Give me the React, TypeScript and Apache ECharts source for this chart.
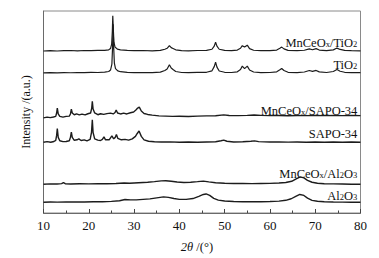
import React, { useEffect, useRef } from "react";
import * as echarts from "echarts";

// 2θ range and tick labels
const xMin = 10;
const xMax = 80;
const xTicks = [10, 20, 30, 40, 50, 60, 70, 80];

// Curve names (rich text for subscripts) and vertical offsets (a.u.)
const seriesNames = ["MnCeOx/TiO2", "TiO2", "MnCeOx/SAPO-34", "SAPO-34", "MnCeOx/Al2O3", "Al2O3"];
const richNames = [
  "{a|MnCeO}{s|x}{a|/TiO}{s|2}",
  "{a|TiO}{s|2}",
  "{a|MnCeO}{s|x}{a|/SAPO-34}",
  "{a|SAPO-34}",
  "{a|MnCeO}{s|x}{a|/Al}{s|2}{a|O}{s|3}",
  "{a|Al}{s|2}{a|O}{s|3}",
];
const offsets = [166, 143.5, 97.5, 72.5, 29.5, 11];
const labelOffsets = [174.5, 152.5, 105.5, 81.5, 40, 18];

// [2θ, intensity above own baseline]
const mnceTiO2 = [
  [10, 0], [11.5, 0.4], [13, 0], [14.5, 0.3], [16, 0.5], [17.5, 0.2], [19, 0.5], [20.5, 0.3], [22, 0.6], [23.5, 0.7],
  [24.4, 1.2], [24.8, 2.5], [25.05, 7], [25.2, 20], [25.3, 36], [25.42, 22], [25.55, 9], [25.8, 4], [26.3, 2],
  [27, 1.2], [28.5, 0.6], [30, 0.3], [32, 0.5], [34, 0.2], [35.8, 0.6], [36.8, 1.8], [37.3, 2.8], [37.8, 5.5],
  [38.2, 3.5], [38.6, 2.6], [39.2, 1.2], [40.5, 0.4], [42, 0.2], [44, 0.5], [46, 0.6], [47.2, 1.8], [47.7, 5],
  [48.0, 9], [48.3, 5], [48.8, 1.8], [50, 0.6], [51.5, 0.4], [52.8, 1], [53.5, 2.8], [53.9, 5.5], [54.4, 4],
  [55.0, 6], [55.5, 2.5], [56.4, 0.8], [58, 0.3], [60, 0.4], [61.5, 1], [62.2, 2.8], [62.6, 4], [63.1, 2.2],
  [64, 0.6], [66, 0.3], [67.6, 0.8], [68.7, 2.2], [69.4, 1.3], [70.2, 2.4], [70.9, 1], [72.5, 0.4], [74, 1.2],
  [74.8, 3], [75.5, 1.6], [76.5, 0.6], [78, 0.3], [80, 0.2],
];
const tiO2 = [
  [10, 0], [11.5, 0.3], [13, 0], [14.5, 0.4], [16, 0.2], [17.5, 0.5], [19, 0.3], [20.5, 0.6], [22, 0.5], [23.5, 0.8],
  [24.4, 1.5], [24.8, 3], [25.1, 9], [25.25, 26], [25.38, 50], [25.5, 26], [25.65, 10], [25.9, 4.5], [26.4, 2.2],
  [27, 1.3], [28.5, 0.7], [30, 0.4], [32, 0.5], [34, 0.3], [35.8, 0.8], [36.8, 2.5], [37.3, 4], [37.8, 8.5],
  [38.2, 5], [38.6, 3.5], [39.2, 1.5], [40.5, 0.5], [42, 0.3], [44, 0.6], [46, 0.7], [47.2, 2.2], [47.7, 6.5],
  [48.0, 11], [48.3, 6], [48.8, 2], [50, 0.7], [51.5, 0.5], [52.8, 1.2], [53.5, 3.5], [53.9, 7], [54.4, 4.5],
  [55.0, 7], [55.5, 3], [56.4, 1], [58, 0.4], [60, 0.5], [61.5, 1.2], [62.2, 3.2], [62.6, 4.5], [63.1, 2.5],
  [64, 0.7], [66, 0.4], [67.6, 1], [68.7, 2.5], [69.4, 1.6], [70.2, 2.6], [70.9, 1.1], [72.5, 0.5], [74, 1.5],
  [74.8, 3.5], [75.5, 1.8], [76.5, 0.7], [78, 0.4], [80, 0.3],
];
const mnceSapo = [
  [10, 0], [10.8, 0.8], [11.5, 0.2], [12.2, 0.9], [12.7, 1.5], [12.9, 5], [13.05, 10], [13.25, 4], [13.6, 1.5],
  [14.3, 0.8], [15.0, 1.5], [15.7, 1.8], [15.95, 4], [16.15, 9], [16.35, 5], [16.8, 3.2], [17.3, 4], [17.9, 3],
  [18.5, 3.8], [19.2, 3], [19.8, 4.2], [20.4, 5], [20.65, 10], [20.78, 17], [20.95, 9], [21.3, 5], [22, 3.2],
  [22.6, 4.2], [23.3, 3.5], [24, 4.3], [24.8, 4.8], [25.4, 4], [25.8, 5.5], [26.05, 8], [26.35, 5], [27, 4],
  [27.7, 4.8], [28.4, 4], [29.2, 5.2], [29.9, 6], [30.4, 8], [30.8, 10], [31.15, 11], [31.6, 7], [32.2, 4.5],
  [33, 3.5], [34, 2.8], [35.5, 2], [37, 1.8], [38.5, 1.5], [40, 1.6], [42, 1.4], [44, 1.8], [46, 2], [48, 2.2],
  [49.8, 3], [51, 2.4], [53, 2.3], [55, 2.5], [56.5, 3], [58, 2.5], [60, 2.3], [62, 2.4], [64, 2.2], [66, 2.4],
  [68, 2.3], [70, 2.5], [72, 2.3], [74, 2.4], [76, 2.3], [78, 2.4], [80, 2.3],
];
const sapo = [
  [10, 0], [10.8, 0.6], [11.6, 0], [12.3, 0.8], [12.7, 2], [12.9, 7], [13.05, 14], [13.25, 5], [13.6, 1.5],
  [14.3, 0.6], [15.0, 0.8], [15.7, 1.5], [15.95, 5], [16.15, 10.5], [16.35, 5], [16.8, 2], [17.4, 2.5], [17.8, 3.5],
  [18.3, 1.8], [19.0, 2.5], [19.6, 1.5], [20.3, 3], [20.6, 10], [20.78, 23], [20.95, 10], [21.3, 3.5], [22.0, 2.2],
  [22.6, 1.8], [23.0, 3], [23.35, 5.5], [23.7, 2.5], [24.5, 2.5], [25.1, 6.5], [25.5, 3.5], [25.85, 5], [26.1, 8],
  [26.4, 4], [27.2, 2.5], [28.0, 3], [28.8, 2.2], [29.6, 3.5], [30.3, 6], [30.7, 9], [31.1, 11.5], [31.6, 6],
  [32.2, 2.5], [33.2, 1], [34.5, 0.5], [36, 0.2], [38, 0.4], [40, 0], [42, 0.3], [44, 0], [46, 0.3], [48, 0.5],
  [49.2, 1.5], [49.8, 2.2], [50.5, 1], [52, 0.3], [54, 0.5], [55.8, 1], [56.6, 1.4], [57.5, 0.6], [60, 0.2],
  [62, 0.4], [64, 0.1], [66, 0.3], [68, 0], [70, 0.2], [72, 0], [74, 0.2], [76, 0], [78, 0.2], [80, 0],
];
const mnceAl2O3 = [
  [10, 0], [11.5, 0.3], [13, 0.2], [14.0, 0.6], [14.4, 1.6], [14.8, 0.5], [16, 0.2], [18, 0.4], [20, 0.3],
  [22, 0.6], [24, 0.5], [26, 0.8], [27.8, 1.3], [29, 1], [31, 1.5], [33, 2], [34.5, 2.6], [36, 3.4], [37, 3.6],
  [38.2, 3], [39.5, 2.2], [41, 1.8], [42.5, 2], [44, 2.6], [45.3, 3.2], [46.5, 2.4], [48, 1.5], [50, 1],
  [52, 0.8], [54, 0.7], [56, 0.6], [58, 0.8], [60, 0.9], [62, 1.2], [63.5, 1.8], [64.8, 3], [65.8, 5.5],
  [66.7, 7.5], [67.5, 6.5], [68.3, 4], [69.3, 2], [70.5, 1], [72, 0.5], [74, 0.3], [76, 0.2], [78, 0], [80, 0],
];
const al2O3 = [
  [10, 0], [11.5, 0.3], [13, 0.1], [15, 0.4], [17, 0.2], [19, 0.3], [21, 0.5], [23, 0.6], [25, 0.9], [26.8, 1.5],
  [28.0, 2.8], [29.2, 2.4], [30.5, 2.5], [32, 3], [33.5, 3.5], [35, 4.5], [36.5, 5.5], [37.6, 5], [38.8, 3.8],
  [40, 3], [41.5, 3], [43, 3.8], [44.3, 6], [45.3, 8], [45.9, 8.5], [46.7, 7], [47.6, 4], [48.6, 2.2], [50, 1.3],
  [52, 0.8], [54, 0.6], [56, 0.7], [58, 0.6], [60, 0.8], [62, 1.2], [63.5, 2], [64.7, 3.6], [65.7, 6],
  [66.6, 8], [67.5, 7], [68.3, 4.2], [69.3, 2], [70.5, 1], [72, 0.5], [74, 0.2], [76, 0.1], [78, 0], [80, 0],
];

const curves = [mnceTiO2, tiO2, mnceSapo, sapo, mnceAl2O3, al2O3];

const FONT = '"Liberation Serif", "Times New Roman", "DejaVu Serif", serif';

export default function App() {
  const ref = useRef<HTMLDivElement>(null);

  useEffect(() => {
    if (!ref.current) return;
    const chart = echarts.init(ref.current, undefined, { renderer: "svg" });

    const series: any[] = curves.map((c, i) => ({
      name: seriesNames[i],
      type: "line",
      data: c.map(([x, y]) => [x, y + offsets[i]]),
      showSymbol: false,
      symbol: "none",
      smooth: false,
      lineStyle: { color: "#1c1c1c", width: i >= 2 ? 1.4 : 1.2 },
      silent: true,
      markPoint: {
        symbol: "circle",
        symbolSize: 0,
        silent: true,
        data: [
          {
            coord: [79.3, labelOffsets[i]],
            label: {
              show: true,
              position: "left",
              distance: 0,
              formatter: richNames[i],
              rich: {
                a: {
                  fontFamily: FONT,
                  fontSize: 12.5,
                  color: "#111",
                  lineHeight: 12,
                  verticalAlign: "top",
                },
                s: {
                  fontFamily: FONT,
                  fontSize: 8.5,
                  color: "#111",
                  lineHeight: 9,
                  padding: [8, 0, 0, 0],
                  verticalAlign: "bottom",
                },
              },
            },
          },
        ],
      },
    }));

    chart.setOption({
      animation: false,
      grid: {
        left: 43.5,
        right: 18.5,
        top: 11,
        bottom: 40,
        show: true,
        borderColor: "#8a8a8a",
        borderWidth: 1,
        backgroundColor: "transparent",
      },
      xAxis: {
        type: "value",
        min: xMin,
        max: xMax,
        interval: 10,
        name: "{i|2θ} /(°)",
        nameLocation: "middle",
        nameGap: 27,
        nameTextStyle: {
          fontFamily: FONT,
          fontSize: 12.5,
          color: "#111",
          padding: [0, 10, 0, 0],
          rich: {
            i: { fontFamily: FONT, fontSize: 12.5, fontStyle: "italic", color: "#111" },
          },
        },
        axisLine: { show: true, lineStyle: { color: "#6a6a6a", width: 1 } },
        axisTick: { show: true, inside: true, length: 4, lineStyle: { color: "#444" } },
        minorTick: { show: true, splitNumber: 2, length: 2.5, lineStyle: { color: "#444" } },
        splitLine: { show: false },
        axisLabel: {
          fontFamily: FONT,
          fontSize: 13,
          color: "#111",
          margin: 6,
          formatter: (v: number) => (xTicks.includes(v) ? String(v) : ""),
        },
      },
      yAxis: {
        type: "value",
        min: 0,
        max: 207,
        name: "Intensity /(a.u.)",
        nameLocation: "middle",
        nameGap: 12,
        nameRotate: 90,
        nameTextStyle: { fontFamily: FONT, fontSize: 12, color: "#111" },
        axisLine: { show: true, lineStyle: { color: "#6a6a6a", width: 1 } },
        axisTick: { show: false },
        axisLabel: { show: false },
        splitLine: { show: false },
      },
      series,
    });

    return () => chart.dispose();
  }, []);

  return <div ref={ref} style={{ width: 379, height: 258, position: "absolute", left: 0, top: 0 }} />;
}
